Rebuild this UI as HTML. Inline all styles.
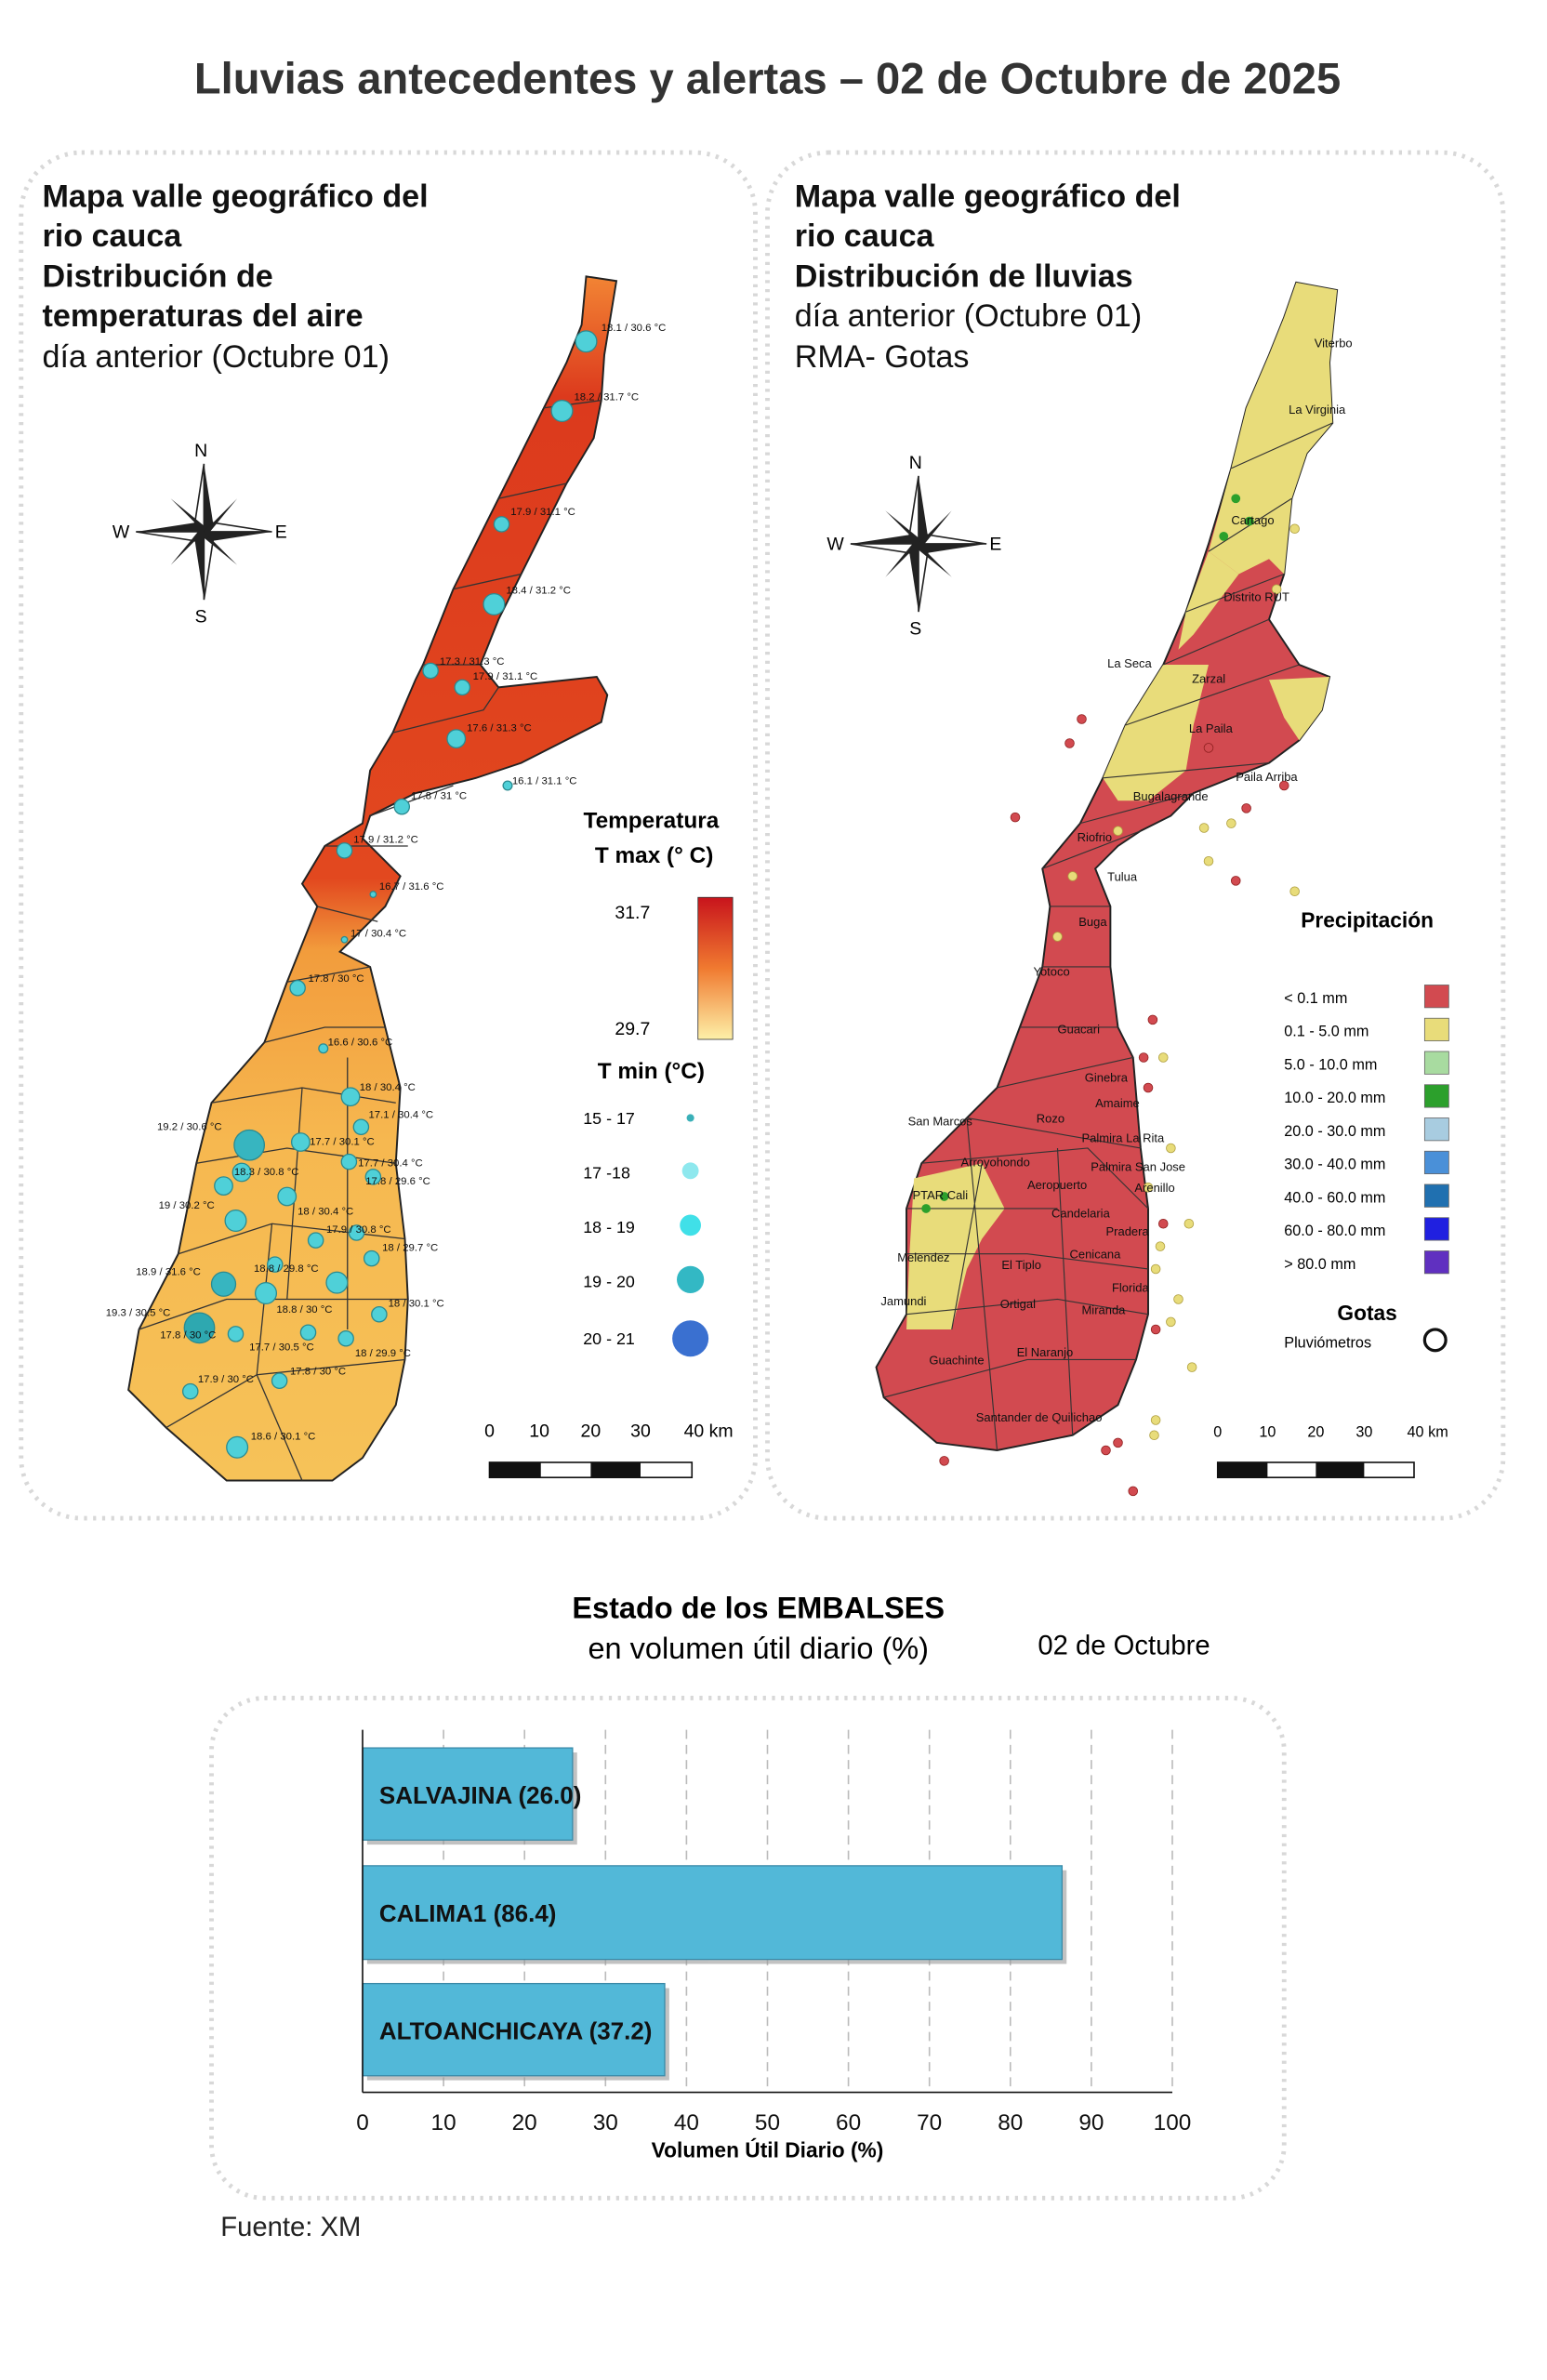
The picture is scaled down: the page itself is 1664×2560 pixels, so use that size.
<!DOCTYPE html>
<html><head><meta charset="utf-8">
<style>
html,body{margin:0;padding:0;background:#fff;}
svg{display:block;}
text{font-family:"Liberation Sans",sans-serif;}
</style></head>
<body>
<svg width="1664" height="2560" viewBox="0 0 1024 1575.4" xmlns="http://www.w3.org/2000/svg">
<defs>
<linearGradient id="tg" x1="0" y1="183" x2="0" y2="980" gradientUnits="userSpaceOnUse">
<stop offset="0" stop-color="#f28434"/>
<stop offset="0.1" stop-color="#dc3a1d"/>
<stop offset="0.5" stop-color="#e2481f"/>
<stop offset="0.56" stop-color="#f29c3c"/>
<stop offset="0.72" stop-color="#f6b850"/>
<stop offset="1" stop-color="#f6c258"/>
</linearGradient>
<linearGradient id="lg" x1="0" y1="0" x2="0" y2="1">
<stop offset="0" stop-color="#c8141c"/>
<stop offset="0.5" stop-color="#f07a30"/>
<stop offset="1" stop-color="#fdf0a8"/>
</linearGradient>
</defs>
<rect width="1024" height="1575.4" fill="#fff"/>
<text x="508" y="62" text-anchor="middle" font-size="29" font-weight="bold" fill="#333">Lluvias antecedentes y alertas – 02 de Octubre de 2025</text>

<rect x="14" y="101" width="486" height="904" rx="40" fill="none" stroke="#d8d8d8" stroke-width="3" stroke-dasharray="2,4"/>
<rect x="508" y="101" width="487" height="904" rx="40" fill="none" stroke="#d8d8d8" stroke-width="3" stroke-dasharray="2,4"/>

<g font-size="21" fill="#111">
<text x="28" y="137" font-weight="bold">Mapa valle geográfico del</text>
<text x="28" y="163" font-weight="bold">rio cauca</text>
<text x="28" y="190" font-weight="bold">Distribución de</text>
<text x="28" y="216" font-weight="bold">temperaturas del aire</text>
<text x="28" y="243">día anterior (Octubre 01)</text>
<text x="526" y="137" font-weight="bold">Mapa valle geográfico del</text>
<text x="526" y="163" font-weight="bold">rio cauca</text>
<text x="526" y="190" font-weight="bold">Distribución de lluvias</text>
<text x="526" y="216">día anterior (Octubre 01)</text>
<text x="526" y="243">RMA- Gotas</text>
</g>

<g id="comp" transform="translate(135,352)">
<polygon points="0,-45 6,-6 0,0" fill="#222"/><polygon points="0,-45 -6,-6 0,0" fill="#fff" stroke="#222"/>
<polygon points="0,45 -6,6 0,0" fill="#222"/><polygon points="0,45 6,6 0,0" fill="#fff" stroke="#222"/>
<polygon points="45,0 6,6 0,0" fill="#222"/><polygon points="45,0 6,-6 0,0" fill="#fff" stroke="#222"/>
<polygon points="-45,0 -6,-6 0,0" fill="#222"/><polygon points="-45,0 -6,6 0,0" fill="#fff" stroke="#222"/>
<polygon points="22,-22 4,0 0,0" fill="#222"/><polygon points="-22,22 -4,0 0,0" fill="#222"/>
<polygon points="22,22 0,4 0,0" fill="#222"/><polygon points="-22,-22 0,-4 0,0" fill="#222"/>
<text x="-2" y="-50" font-size="12" font-family="Liberation Serif" text-anchor="middle">N</text>
<text x="-2" y="60" font-size="12" font-family="Liberation Serif" text-anchor="middle">S</text>
<text x="-55" y="4" font-size="12" font-family="Liberation Serif" text-anchor="middle">W</text>
<text x="51" y="4" font-size="12" font-family="Liberation Serif" text-anchor="middle">E</text>
</g>
<use href="#comp" transform="translate(473,8)"/>

<polygon fill="url(#tg)" stroke="#222" stroke-width="1.2" points="388,183 408,186 400,235 398,265 393,290 375,320 360,350 345,380 330,410 318,440 330,455 395,448 402,460 398,478 345,505 315,515 275,525 245,540 240,555 265,580 255,600 240,615 225,630 245,640 255,680 265,720 262,770 268,820 270,860 268,900 262,930 240,965 220,980 150,980 110,945 85,920 92,880 118,830 130,770 140,730 175,690 190,650 210,600 200,585 215,560 240,545 245,510 260,485 275,450 280,440 290,415 300,390 315,360 330,330 345,300 360,270 375,240 385,215"/>
<g stroke="#333" stroke-width="0.8" fill="none">
<path d="M360,270 L398,265 M330,330 L375,320 M300,390 L345,380 M280,440 L318,440 M260,485 L320,470 L330,455 M245,540 L300,520 M215,560 L270,560 M210,600 L250,610 M190,650 L245,640 M175,690 L215,680 L255,680 M140,730 L200,720 L262,730 M130,770 L190,760 L262,770 M118,830 L180,810 L268,820 M92,880 L150,860 L270,860 M110,945 L170,910 L268,900 M170,910 L200,980 M180,810 L170,910 M200,720 L190,860 M230,700 L230,880"/>
</g>
<g fill="#4fd0d8" stroke="#2a8a90" stroke-width="0.8">
<circle cx="388" cy="226" r="7"/><circle cx="372" cy="272" r="7"/><circle cx="332" cy="347" r="5"/><circle cx="327" cy="400" r="7"/>
<circle cx="285" cy="444" r="5"/><circle cx="306" cy="455" r="5"/><circle cx="302" cy="489" r="6"/><circle cx="266" cy="534" r="5"/>
<circle cx="228" cy="563" r="5"/><circle cx="247" cy="592" r="2"/><circle cx="228" cy="622" r="2"/><circle cx="197" cy="654" r="5"/>
<circle cx="214" cy="694" r="3"/><circle cx="232" cy="726" r="6"/><circle cx="239" cy="746" r="5"/><circle cx="165" cy="758" r="10" fill="#37b5c0"/>
<circle cx="199" cy="756" r="6"/><circle cx="231" cy="769" r="5"/><circle cx="247" cy="779" r="5"/><circle cx="160" cy="776" r="6"/>
<circle cx="148" cy="785" r="6"/><circle cx="190" cy="792" r="6"/><circle cx="156" cy="808" r="7"/><circle cx="209" cy="821" r="5"/>
<circle cx="236" cy="816" r="5"/><circle cx="246" cy="833" r="5"/><circle cx="148" cy="850" r="8" fill="#37b5c0"/><circle cx="176" cy="856" r="7"/>
<circle cx="223" cy="849" r="7"/><circle cx="251" cy="870" r="5"/><circle cx="156" cy="883" r="5"/><circle cx="132" cy="879" r="10" fill="#2ea8b0"/>
<circle cx="204" cy="882" r="5"/><circle cx="229" cy="886" r="5"/><circle cx="185" cy="914" r="5"/><circle cx="126" cy="921" r="5"/>
<circle cx="157" cy="958" r="7"/><circle cx="336" cy="520" r="3"/><circle cx="182" cy="837" r="5"/>
</g>
<g font-size="7" fill="#111">
<text x="398" y="219">18.1 / 30.6 °C</text><text x="380" y="265">18.2 / 31.7 °C</text><text x="338" y="341">17.9 / 31.1 °C</text>
<text x="335" y="393">18.4 / 31.2 °C</text><text x="291" y="440">17.3 / 31.3 °C</text><text x="313" y="450">17.9 / 31.1 °C</text>
<text x="309" y="484">17.6 / 31.3 °C</text><text x="339" y="519">16.1 / 31.1 °C</text><text x="272" y="529">17.8 / 31 °C</text>
<text x="234" y="558">17.9 / 31.2 °C</text><text x="251" y="589">16.7 / 31.6 °C</text><text x="232" y="620">17 / 30.4 °C</text>
<text x="204" y="650">17.8 / 30 °C</text><text x="217" y="692">16.6 / 30.6 °C</text><text x="238" y="722">18 / 30.4 °C</text>
<text x="244" y="740">17.1 / 30.4 °C</text><text x="104" y="748">19.2 / 30.6 °C</text><text x="205" y="758">17.7 / 30.1 °C</text>
<text x="237" y="772">17.7 / 30.4 °C</text><text x="242" y="784">17.8 / 29.6 °C</text><text x="155" y="778">18.3 / 30.8 °C</text>
<text x="105" y="800">19 / 30.2 °C</text><text x="197" y="804">18 / 30.4 °C</text><text x="216" y="816">17.9 / 30.8 °C</text>
<text x="253" y="828">18 / 29.7 °C</text><text x="90" y="844">18.9 / 31.6 °C</text><text x="168" y="842">18.8 / 29.8 °C</text>
<text x="257" y="865">18 / 30.1 °C</text><text x="183" y="869">18.8 / 30 °C</text><text x="70" y="871">19.3 / 30.5 °C</text>
<text x="106" y="886">17.8 / 30 °C</text><text x="165" y="894">17.7 / 30.5 °C</text><text x="235" y="898">18 / 29.9 °C</text>
<text x="192" y="910">17.8 / 30 °C</text><text x="131" y="915">17.9 / 30 °C</text><text x="166" y="953">18.6 / 30.1 °C</text>
</g>

<text x="431" y="548" font-size="15" font-weight="bold" text-anchor="middle">Temperatura</text>
<text x="433" y="571" font-size="15" font-weight="bold" text-anchor="middle">T max (° C)</text>
<rect x="462" y="594" width="23" height="94" fill="url(#lg)" stroke="#333" stroke-width="0.5"/>
<text x="407" y="608" font-size="12">31.7</text>
<text x="407" y="685" font-size="12">29.7</text>
<text x="431" y="714" font-size="15" font-weight="bold" text-anchor="middle">T min (°C)</text>
<g font-size="11">
<text x="386" y="744">15 - 17</text><text x="386" y="780">17 -18</text><text x="386" y="816">18 - 19</text><text x="386" y="852">19 - 20</text><text x="386" y="890">20 - 21</text>
</g>
<circle cx="457" cy="740" r="2.5" fill="#3ab0b8"/>
<circle cx="457" cy="775" r="5.5" fill="#8ee8ee"/>
<circle cx="457" cy="811" r="7" fill="#40e0e8"/>
<circle cx="457" cy="847" r="9" fill="#33b8c4"/>
<circle cx="457" cy="886" r="12" fill="#3a70d0"/>
<g font-size="12">
<text x="324" y="951" text-anchor="middle">0</text><text x="357" y="951" text-anchor="middle">10</text><text x="391" y="951" text-anchor="middle">20</text><text x="424" y="951" text-anchor="middle">30</text><text x="469" y="951" text-anchor="middle">40 km</text>
</g>
<rect x="324" y="968" width="134" height="10" fill="#fff" stroke="#111"/>
<rect x="324" y="968" width="34" height="10" fill="#111"/><rect x="391" y="968" width="33" height="10" fill="#111"/>
<g font-size="10">
<text x="806" y="951" text-anchor="middle">0</text><text x="839" y="951" text-anchor="middle">10</text><text x="871" y="951" text-anchor="middle">20</text><text x="903" y="951" text-anchor="middle">30</text><text x="945" y="951" text-anchor="middle">40 km</text>
</g>
<rect x="806" y="968" width="130" height="10" fill="#fff" stroke="#111"/>
<rect x="806" y="968" width="33" height="10" fill="#111"/><rect x="871" y="968" width="32" height="10" fill="#111"/>

<polygon fill="#d24a50" stroke="#222" stroke-width="1.2" points="858,187 885,192 880,240 882,280 865,300 855,330 850,380 840,410 860,440 880,448 875,470 860,490 840,505 815,515 790,525 775,540 755,550 740,560 725,575 735,600 735,640 740,680 750,700 755,760 760,800 760,870 752,900 740,930 710,950 660,960 620,955 585,925 580,905 600,870 600,800 610,770 640,740 660,720 675,680 690,640 695,600 690,575 715,545 730,515 745,480 770,440 785,405 800,360 815,310 825,270 840,235 850,210"/>
<g fill="#e8dc7a">
<polygon points="858,187 885,192 880,240 882,280 865,300 855,330 850,380 840,370 820,380 800,365 815,310 825,270 840,235 850,210"/>
<polygon points="800,365 820,380 790,420 780,430 785,405"/>
<polygon points="770,440 800,440 790,480 785,510 760,530 740,530 730,515 745,480"/>
<polygon points="840,450 880,448 875,470 860,490 850,475"/>
<polygon points="605,780 650,770 665,800 650,820 640,840 630,880 600,880 602,830"/>
</g>
<g stroke="#333" stroke-width="0.7" fill="none">
<path d="M815,310 L882,280 M800,365 L855,330 M785,405 L850,380 M770,440 L840,410 M745,480 L860,440 M730,515 L840,505 M715,545 L790,525 M690,575 L755,550 M695,600 L735,600 M690,640 L735,640 M675,680 L740,680 M660,720 L750,700 M640,740 L755,760 M610,770 L720,760 L760,800 M600,800 L700,800 M600,830 L680,830 L760,840 M600,870 L700,860 L760,870 M585,925 L680,900 L752,900 M640,740 L660,960 M700,760 L710,950 M650,770 L630,880"/>
</g>
<g fill="#e8dc7a" stroke="#b0a040" stroke-width="0.5">
<circle cx="797" cy="548" r="3"/><circle cx="815" cy="545" r="3"/><circle cx="800" cy="570" r="3"/><circle cx="857" cy="590" r="3"/>
<circle cx="770" cy="700" r="3"/><circle cx="775" cy="760" r="3"/><circle cx="787" cy="810" r="3"/><circle cx="765" cy="840" r="3"/>
<circle cx="780" cy="860" r="3"/><circle cx="789" cy="905" r="3"/><circle cx="765" cy="940" r="3"/><circle cx="764" cy="950" r="3"/>
<circle cx="845" cy="390" r="3"/><circle cx="857" cy="350" r="3"/><circle cx="710" cy="580" r="3"/><circle cx="700" cy="620" r="3"/>
<circle cx="760" cy="786" r="3"/><circle cx="768" cy="825" r="3"/><circle cx="775" cy="875" r="3"/><circle cx="740" cy="550" r="3"/>
</g>
<g fill="#d24a50" stroke="#902020" stroke-width="0.5">
<circle cx="716" cy="476" r="3"/><circle cx="708" cy="492" r="3"/><circle cx="672" cy="541" r="3"/><circle cx="763" cy="675" r="3"/>
<circle cx="760" cy="720" r="3"/><circle cx="770" cy="810" r="3"/><circle cx="765" cy="880" r="3"/><circle cx="732" cy="960" r="3"/>
<circle cx="625" cy="967" r="3"/><circle cx="750" cy="987" r="3"/><circle cx="818" cy="583" r="3"/><circle cx="850" cy="520" r="3"/>
<circle cx="825" cy="535" r="3"/><circle cx="800" cy="495" r="3"/><circle cx="740" cy="955" r="3"/><circle cx="757" cy="700" r="3"/>
</g>
<g fill="#2ca02c"><circle cx="818" cy="330" r="3"/><circle cx="827" cy="345" r="3"/><circle cx="810" cy="355" r="3"/><circle cx="613" cy="800" r="3"/><circle cx="625" cy="792" r="3"/></g>
<g font-size="8" fill="#111">
<text x="870" y="230">Viterbo</text><text x="853" y="274">La Virginia</text><text x="815" y="347">Cartago</text><text x="810" y="398">Distrito RUT</text>
<text x="733" y="442">La Seca</text><text x="789" y="452">Zarzal</text><text x="787" y="485">La Paila</text><text x="818" y="517">Paila Arriba</text>
<text x="750" y="530">Bugalagrande</text><text x="713" y="557">Riofrio</text><text x="733" y="583">Tulua</text><text x="714" y="613">Buga</text>
<text x="684" y="646">Yotoco</text><text x="700" y="684">Guacari</text><text x="718" y="716">Ginebra</text><text x="725" y="733">Amaime</text>
<text x="686" y="743">Rozo</text><text x="601" y="745">San Marcos</text><text x="716" y="756">Palmira La Rita</text><text x="636" y="772">Arroyohondo</text>
<text x="722" y="775">Palmira San Jose</text><text x="680" y="787">Aeropuerto</text><text x="751" y="789">Arenillo</text><text x="604" y="794">PTAR Cali</text>
<text x="696" y="806">Candelaria</text><text x="732" y="818">Pradera</text><text x="594" y="835">Melendez</text><text x="663" y="840">El Tiplo</text>
<text x="708" y="833">Cenicana</text><text x="736" y="855">Florida</text><text x="583" y="864">Jamundi</text><text x="662" y="866">Ortigal</text>
<text x="716" y="870">Miranda</text><text x="673" y="898">El Naranjo</text><text x="615" y="903">Guachinte</text><text x="646" y="941">Santander de Quilichao</text>
</g>
<text x="905" y="614" font-size="14" font-weight="bold" text-anchor="middle">Precipitación</text>
<g font-size="10">
<text x="850" y="664">&lt; 0.1 mm</text><text x="850" y="686">0.1 - 5.0 mm</text><text x="850" y="708">5.0 - 10.0 mm</text>
<text x="850" y="730">10.0 - 20.0 mm</text><text x="850" y="752">20.0 - 30.0 mm</text><text x="850" y="774">30.0 - 40.0 mm</text>
<text x="850" y="796">40.0 - 60.0 mm</text><text x="850" y="818">60.0 - 80.0 mm</text><text x="850" y="840">&gt; 80.0 mm</text>
<text x="850" y="892">Pluviómetros</text>
</g>
<g stroke="#666" stroke-width="0.5">
<rect x="943" y="652" width="16" height="15" fill="#d24a50"/><rect x="943" y="674" width="16" height="15" fill="#e8dc7a"/>
<rect x="943" y="696" width="16" height="15" fill="#a8dba0"/><rect x="943" y="718" width="16" height="15" fill="#2ca02c"/>
<rect x="943" y="740" width="16" height="15" fill="#a8cce0"/><rect x="943" y="762" width="16" height="15" fill="#4a90d8"/>
<rect x="943" y="784" width="16" height="15" fill="#2070b0"/><rect x="943" y="806" width="16" height="15" fill="#2020e0"/>
<rect x="943" y="828" width="16" height="15" fill="#6030c0"/>
</g>
<text x="905" y="874" font-size="14" font-weight="bold" text-anchor="middle">Gotas</text>
<circle cx="950" cy="887" r="7" fill="none" stroke="#111" stroke-width="2"/>

<text x="502" y="1071" font-size="20" font-weight="bold" text-anchor="middle">Estado de los EMBALSES</text>
<text x="502" y="1098" font-size="20" text-anchor="middle">en volumen útil diario (%)</text>
<text x="744" y="1095" font-size="18" text-anchor="middle">02 de Octubre</text>
<rect x="140" y="1124" width="710" height="331" rx="35" fill="none" stroke="#d8d8d8" stroke-width="3" stroke-dasharray="2,4"/>
<g stroke="#bbb" stroke-width="1" stroke-dasharray="6,4">
<line x1="293.6" y1="1145" x2="293.6" y2="1385"/><line x1="347.2" y1="1145" x2="347.2" y2="1385"/><line x1="400.8" y1="1145" x2="400.8" y2="1385"/>
<line x1="454.4" y1="1145" x2="454.4" y2="1385"/><line x1="508" y1="1145" x2="508" y2="1385"/><line x1="561.6" y1="1145" x2="561.6" y2="1385"/>
<line x1="615.2" y1="1145" x2="615.2" y2="1385"/><line x1="668.8" y1="1145" x2="668.8" y2="1385"/><line x1="722.4" y1="1145" x2="722.4" y2="1385"/>
<line x1="776" y1="1145" x2="776" y2="1385"/>
</g>
<g fill="#999" opacity="0.6">
<rect x="243" y="1160" width="139" height="61"/><rect x="243" y="1238" width="463" height="62"/><rect x="243" y="1316" width="200" height="61"/>
</g>
<g fill="#52b8d8" stroke="#3a8aa8" stroke-width="0.8">
<rect x="240" y="1157" width="139" height="61"/><rect x="240" y="1235" width="463" height="62"/><rect x="240" y="1313" width="200" height="61"/>
</g>
<g font-size="16" font-weight="bold" fill="#111">
<text x="251" y="1194">SALVAJINA (26.0)</text><text x="251" y="1272">CALIMA1 (86.4)</text><text x="251" y="1350">ALTOANCHICAYA (37.2)</text>
</g>
<line x1="240" y1="1145" x2="240" y2="1385" stroke="#111"/>
<line x1="240" y1="1385" x2="776" y2="1385" stroke="#111"/>
<g font-size="15" text-anchor="middle" fill="#111">
<text x="240" y="1410">0</text><text x="293.6" y="1410">10</text><text x="347.2" y="1410">20</text><text x="400.8" y="1410">30</text><text x="454.4" y="1410">40</text>
<text x="508" y="1410">50</text><text x="561.6" y="1410">60</text><text x="615.2" y="1410">70</text><text x="668.8" y="1410">80</text><text x="722.4" y="1410">90</text><text x="776" y="1410">100</text>
</g>
<text x="508" y="1428" font-size="14" font-weight="bold" text-anchor="middle">Volumen Útil Diario (%)</text>
<text x="146" y="1480" font-size="18" fill="#222">Fuente: XM</text>
</svg>
</body></html>
